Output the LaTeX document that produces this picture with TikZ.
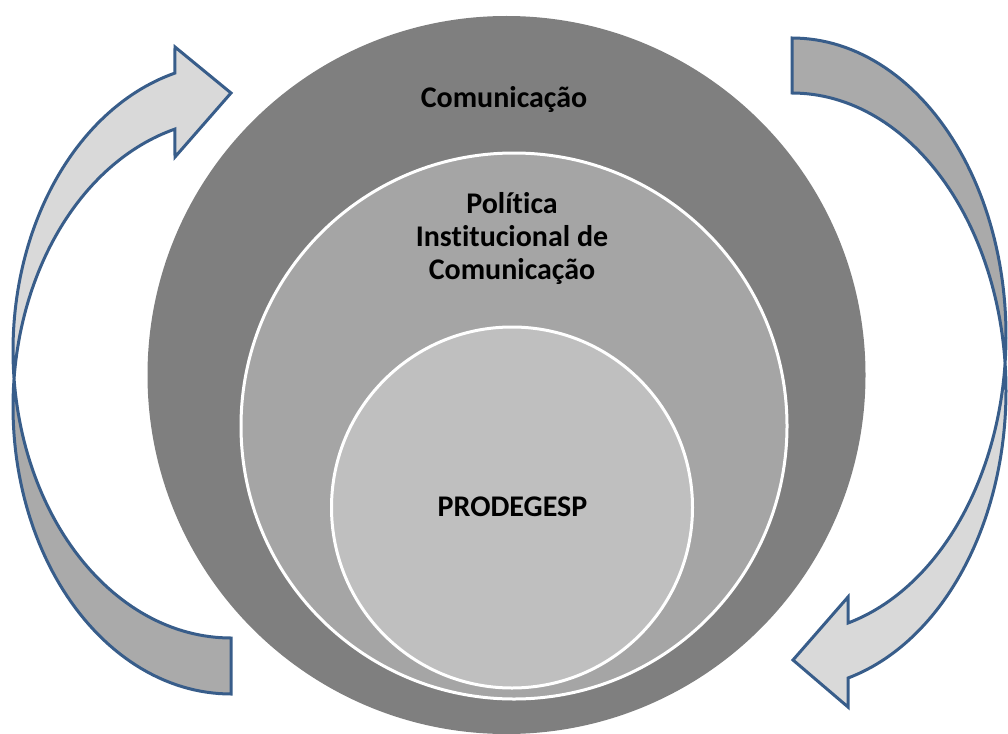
\documentclass[tikz,border=0pt]{standalone}
\usepackage{fontspec}
\setmainfont{Carlito}[Ligatures=NoCommon]
\usepackage{tikz}
\usetikzlibrary{positioning, calc}

\definecolor{ringdark}{RGB}{127,127,127}
\definecolor{ringmid}{RGB}{165,165,165}
\definecolor{ringlight}{RGB}{191,191,191}
\definecolor{arrowfront}{RGB}{217,217,217}
\definecolor{arrowback}{RGB}{170,170,170}
\definecolor{arrowline}{RGB}{56,93,138}

\begin{document}
\begin{tikzpicture}[x=1pt, y=-1pt,
  disc/.style={circle, inner sep=0pt},
  ringtext/.style={font=\fontsize{30}{33}\selectfont\bfseries, align=center, inner sep=0pt},
  band/.style={draw=arrowline, line width=3pt, line join=miter},
  ]
  \useasboundingbox (0,0) rectangle (1008,733);

  % nested circles
  \node[disc, minimum size=718pt, fill=ringdark] (outer) at (506.5,375) {};
  \node[disc, minimum size=546pt, fill=ringmid, draw=white, line width=3pt] (middle) at (514,426) {};
  \node[disc, minimum size=361pt, fill=ringlight, draw=white, line width=3pt] (inner) at (512,507.5) {};

  \node[ringtext] (outertext) at (504,99) {Comunicação};
  \node[ringtext] (middletext) at (512,238) {Política\\Institucional de\\Comunicação};
  \node[ringtext] (innertext) at (512.5,506.5) {PRODEGESP};

  % left arrow, back half then front half with head
  \filldraw[band, fill=arrowback]
    plot[domain=185.6:90, samples=60] ({231+218*cos(\x)},{406.7+287.3*sin(\x)})
    -- plot[domain=90:174.4, samples=60] ({231+218*cos(\x)},{350.7+287.3*sin(\x)}) -- cycle;
  \filldraw[band, fill=arrowfront]
    plot[domain=174.4:255.1, samples=60] ({231+218*cos(\x)},{350.7+287.3*sin(\x)})
    -- (175,47) -- (231,93) -- (175,157)
    -- plot[domain=255.1:185.6, samples=60] ({231+218*cos(\x)},{406.7+287.3*sin(\x)}) -- cycle;

  % right arrow
  \filldraw[band, fill=arrowback]
    plot[domain=-90:5.3, samples=60] ({792+214*cos(\x)},{335.7+297.7*sin(\x)})
    -- plot[domain=-5.3:-90, samples=60] ({792+214*cos(\x)},{390.7+297.7*sin(\x)}) -- cycle;
  \filldraw[band, fill=arrowfront]
    plot[domain=5.3:74.8, samples=60] ({792+214*cos(\x)},{335.7+297.7*sin(\x)})
    -- (848,597) -- (793,660) -- (848,707)
    -- plot[domain=74.8:-5.3, samples=60] ({792+214*cos(\x)},{390.7+297.7*sin(\x)}) -- cycle;
\end{tikzpicture}
\end{document}
